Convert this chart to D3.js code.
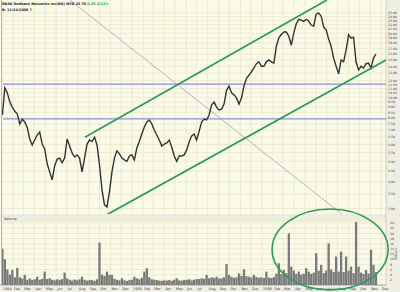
<!DOCTYPE html>
<html>
<head>
<meta charset="utf-8">
<script src="https://cdn.jsdelivr.net/npm/d3@7"></script>
<style>
body { margin: 0; background: #fff; }
svg { display: block; font-family: "DejaVu Sans", sans-serif; }
</style>
</head>
<body>
<div id="chart"></div>
<script>
// weekly closes, first week ending 2004-01-02
var firstWeek = new Date(2004, 0, 2);
var closes = [8.26, 11.1, 10.5, 9.5, 9.0, 8.6, 8.35, 7.5, 7.9, 7.66,
  7.2, 6.37, 5.97, 6.3, 6.65, 6.87, 6.03, 5.72, 4.87, 4.46,
  4.09, 4.76, 5.13, 5.18, 4.92, 5.18, 6.37, 5.9, 5.48, 5.24,
  5.36, 5.18, 4.46, 5.18, 6.03, 6.3, 6.2, 6.5, 5.97, 4.81,
  3.67, 3.12, 3.05, 3.6, 4.46, 5.18, 5.6, 5.42, 5.18, 5.08,
  5.0, 5.3, 5.36, 5.08, 5.78, 6.2, 6.72, 7.26, 7.66, 7.83,
  7.5, 7.02, 6.65, 6.3, 5.9, 6.03, 6.1, 6.3, 5.84, 5.3,
  5.0, 5.3, 5.3, 5.36, 5.66, 6.17, 6.58, 6.72, 6.3, 6.94,
  7.66, 7.9, 7.83, 8.26, 9.21, 9.5, 9.0, 8.72, 8.8, 9.3,
  10.8, 11.3, 10.5, 10.3, 9.94, 9.3, 9.94, 11.3, 12.3, 12.7,
  13.2, 13.75, 14.4, 14.7, 14.0, 14.0, 14.7, 15.0, 14.7, 14.5,
  17.4, 19.0, 19.8, 20.3, 20.3, 19.4, 17.6, 20.1, 22.2, 23.3,
  23.1, 22.8, 23.3, 22.8, 21.9, 21.6, 24.7, 24.95, 24.1, 21.4,
  20.8, 18.8, 17.4, 15.3, 14.0, 12.9, 15.0, 14.7, 16.7, 19.7,
  19.0, 19.2, 14.7, 13.46, 14.0, 13.75, 14.4, 14.5, 13.75, 15.3,
  16.0];
// weekly volume, millions
var volumes = [14, 10, 6, 4, 5.8, 3, 6.6, 3, 2.5, 3.9,
  2, 2.5, 2, 2.2, 3.2, 2, 2.4, 5.2, 2.3, 2.6,
  2, 1.8, 2.2, 1.9, 2.3, 4.8, 2.5, 2, 1.7, 2.1,
  1.8, 2.2, 3.2, 2, 1.7, 1.9, 1.9, 1.6, 2.2, 16.4,
  4, 3.5, 5.2, 3.9, 3.9, 2.4, 2, 1.8, 2.6, 1.8,
  1.6, 1.9, 2, 3.2, 2.6, 2.2, 2.8, 5.2, 6.5, 3,
  2.2, 2, 1.9, 1.7, 1.6, 1.8, 1.7, 1.9, 1.6, 2,
  2.6, 1.8, 1.7, 1.9, 2, 2.2, 1.8, 2, 2.3, 2.3,
  2.6, 2.4, 3.9, 2.6, 3, 2.7, 3.2, 2.5, 2.6, 3,
  8.1, 3.9, 3.2, 2.8, 3, 4.5, 3.5, 6.1, 3.4, 3.2,
  2.9, 3.9, 3.1, 2.8, 3, 2.7, 5.2, 2.9, 2.7, 3,
  4.4, 8.4, 4.2, 5.8, 4.6, 20, 7.1, 5.5, 4.3, 5.2,
  4, 4.4, 6.5, 5.2, 4.3, 4.8, 12.3, 5.5, 7.8, 4.6,
  5.6, 16.1, 6, 5, 11, 5.2, 12.9, 5, 11, 5.5,
  7.1, 4.6, 24.5, 7.1, 4.8, 4.3, 5.8, 4.5, 13.6, 7.8,
  5];

var priceTicks = [25, 24, 23, 22, 21, 20, 19, 18, 17, 16, 15, 14, 13, 12,
  11.5, 11, 10.5, 10, 9.5, 9, 8.5, 8, 7.5, 7, 6.5, 6, 5.5, 5, 4.5, 4, 3.5, 3];
var volTicks = [0, 2, 4, 6, 8, 10, 12, 14, 16, 18, 20, 22, 24];
var monthNames = ["Jan", "Feb", "Mar", "Apr", "May", "Jun", "Jul", "Aug", "Sep", "Oct", "Nov", "Dec"];

// hand drawn lines: [date, price]
var supportLevels = [11.55, 7.92];
var fallLine = [[new Date(2004, 6, 10), 28.7], [new Date(2006, 7, 16), 2.8]];
var channelTop = [[new Date(2004, 7, 21), 6.49], [new Date(2006, 6, 2), 28.7]];
var channelBottom = [[new Date(2004, 9, 21), 2.8], [new Date(2006, 11, 15), 15.0]];
// ellipse round the 2006 volume: dates and volume extents
var ringDates = [new Date(2006, 0, 29), new Date(2006, 11, 21)];
var ringVols = [29.4, -1.9];

var svgWidth = 400, svgHeight = 292;
var plotLeft = 2, plotRight = 386;
var priceTop = 0, priceBottom = 214;
var volTop = 222, volBottom = 285;

var svg = d3.select("#chart").append("svg")
  .attr("width", svgWidth)
  .attr("height", svgHeight);

svg.append("rect").attr("width", svgWidth).attr("height", svgHeight).attr("fill", "#fbfbea");

var weeks = closes.map((c, i) => d3.timeDay.offset(firstWeek, i * 7));

var x = d3.scaleTime()
  .domain([new Date(2004, 0, 1), new Date(2007, 0, 1)])
  .range([2, 392]);
var y = d3.scaleLog().domain([3, 27]).range([208.5, 5.7]);
var yVol = d3.scaleLinear().domain([0, 24]).range([volBottom, 223]);

var months = d3.timeMonth.range(new Date(2004, 0, 1), new Date(2007, 0, 1));

var defs = svg.append("defs");
defs.append("clipPath").attr("id", "clipPrice").append("rect")
  .attr("x", plotLeft).attr("y", priceTop).attr("width", plotRight - plotLeft).attr("height", priceBottom - priceTop);
defs.append("clipPath").attr("id", "clipVol").append("rect")
  .attr("x", plotLeft).attr("y", volTop).attr("width", plotRight - plotLeft).attr("height", volBottom - volTop);

// grid
var grid = svg.append("g").attr("stroke", "#e5e1c3").attr("stroke-width", 0.6);
grid.selectAll(".vp").data(months).enter().append("line")
  .attr("x1", d => x(d)).attr("x2", d => x(d))
  .attr("y1", priceTop).attr("y2", priceBottom);
grid.selectAll(".vv").data(months).enter().append("line")
  .attr("x1", d => x(d)).attr("x2", d => x(d))
  .attr("y1", volTop).attr("y2", volBottom);
grid.selectAll(".hp").data(priceTicks).enter().append("line")
  .attr("x1", plotLeft).attr("x2", plotRight)
  .attr("y1", d => y(d)).attr("y2", d => y(d));
grid.selectAll(".hv").data(volTicks).enter().append("line")
  .attr("x1", plotLeft).attr("x2", plotRight)
  .attr("y1", d => yVol(d)).attr("y2", d => yVol(d));

// volume strip
svg.append("rect").attr("x", 0).attr("y", priceBottom).attr("width", plotRight).attr("height", volTop - priceBottom)
  .attr("fill", "#ececdf");
svg.append("text").attr("x", 4).attr("y", 219.5).attr("font-size", 3.4).attr("fill", "#333").text("Volume");

// right axis strip
svg.append("rect").attr("x", plotRight).attr("y", 0).attr("width", svgWidth - plotRight).attr("height", svgHeight)
  .attr("fill", "#eeeee3");
svg.append("line").attr("x1", plotRight).attr("x2", plotRight).attr("y1", 0).attr("y2", svgHeight)
  .attr("stroke", "#b8b8aa").attr("stroke-width", 0.6);
// bottom axis strip
svg.append("rect").attr("x", 0).attr("y", volBottom).attr("width", svgWidth).attr("height", svgHeight - volBottom)
  .attr("fill", "#eeeee3");
svg.append("line").attr("x1", 0).attr("x2", plotRight).attr("y1", volBottom).attr("y2", volBottom)
  .attr("stroke", "#777").attr("stroke-width", 0.6);
svg.append("line").attr("x1", 1.5).attr("x2", 1.5).attr("y1", 0).attr("y2", volBottom)
  .attr("stroke", "#aaa").attr("stroke-width", 0.8);

// price labels
svg.append("g").selectAll("text").data(priceTicks).enter().append("text")
  .attr("x", 388).attr("y", d => y(d) + 1.2)
  .attr("font-size", 3.2).attr("fill", "#444")
  .text(d => d.toFixed(2));
// volume labels
svg.append("g").selectAll("text").data(volTicks.slice(1)).enter().append("text")
  .attr("x", 390).attr("y", d => yVol(d) + 1.2)
  .attr("font-size", 3.2).attr("fill", "#444")
  .text(d => d);
svg.append("text").attr("transform", "translate(397,254) rotate(-90)")
  .attr("font-size", 3.2).attr("fill", "#444").attr("text-anchor", "middle").text("Millions");

// date labels
svg.append("g").selectAll("text").data(months).enter().append("text")
  .attr("x", d => x(d) + 1).attr("y", 290)
  .attr("font-size", 3.4).attr("fill", "#333")
  .text(d => d.getMonth() === 0 ? d.getFullYear() : monthNames[d.getMonth()]);

// volume bars
svg.append("g").attr("clip-path", "url(#clipVol)")
  .selectAll("rect").data(volumes).enter().append("rect")
  .attr("x", (d, i) => x(weeks[i]) - 1.15)
  .attr("width", 2.3)
  .attr("y", d => yVol(d))
  .attr("height", d => yVol(0) - yVol(d))
  .attr("fill", "#7a7a7a");

var pricePlot = svg.append("g").attr("clip-path", "url(#clipPrice)");

// support levels
pricePlot.selectAll(".lvl").data(supportLevels).enter().append("line")
  .attr("x1", x(new Date(2004, 0, 4))).attr("x2", plotRight)
  .attr("y1", d => y(d)).attr("y2", d => y(d))
  .attr("stroke", "#8e8ee2").attr("stroke-width", 1.3);

// falling line
pricePlot.append("line")
  .attr("x1", x(fallLine[0][0])).attr("y1", y(fallLine[0][1]))
  .attr("x2", x(fallLine[1][0])).attr("y2", y(fallLine[1][1]))
  .attr("stroke", "#a0a0bb").attr("stroke-width", 0.8);

// price
var line = d3.line().x((d, i) => x(weeks[i])).y(d => y(d));
pricePlot.append("path").datum(closes)
  .attr("d", line).attr("fill", "none")
  .attr("stroke", "#333").attr("stroke-width", 1.4)
  .attr("stroke-linejoin", "miter");

// channel
[channelTop, channelBottom].forEach(function(c) {
  pricePlot.append("line")
    .attr("x1", x(c[0][0])).attr("y1", y(c[0][1]))
    .attr("x2", x(c[1][0])).attr("y2", y(c[1][1]))
    .attr("stroke", "#2e9b5c").attr("stroke-width", 1.8);
});

// ring
var rx0 = x(ringDates[0]), rx1 = x(ringDates[1]);
var ry0 = yVol(ringVols[0]), ry1 = yVol(ringVols[1]);
svg.append("ellipse")
  .attr("cx", (rx0 + rx1) / 2).attr("cy", (ry0 + ry1) / 2)
  .attr("rx", (rx1 - rx0) / 2).attr("ry", (ry1 - ry0) / 2)
  .attr("fill", "none").attr("stroke", "#2e9b5c").attr("stroke-width", 1.6);

// header
var head = svg.append("text").attr("x", 2).attr("y", 4.5).attr("font-size", 3.4).attr("font-weight", "bold").attr("fill", "#222");
head.append("tspan").text("RBAK Redback Networks Inc(NQ) NYD  15.76  ");
head.append("tspan").attr("fill", "#2a9a3a").text("0.05  0.32%");
svg.append("text").attr("x", 2).attr("y", 10.5).attr("font-size", 3.4).attr("font-weight", "bold").attr("fill", "#222")
  .text("B: 11/24/2006 ?");
</script>
</body>
</html>
